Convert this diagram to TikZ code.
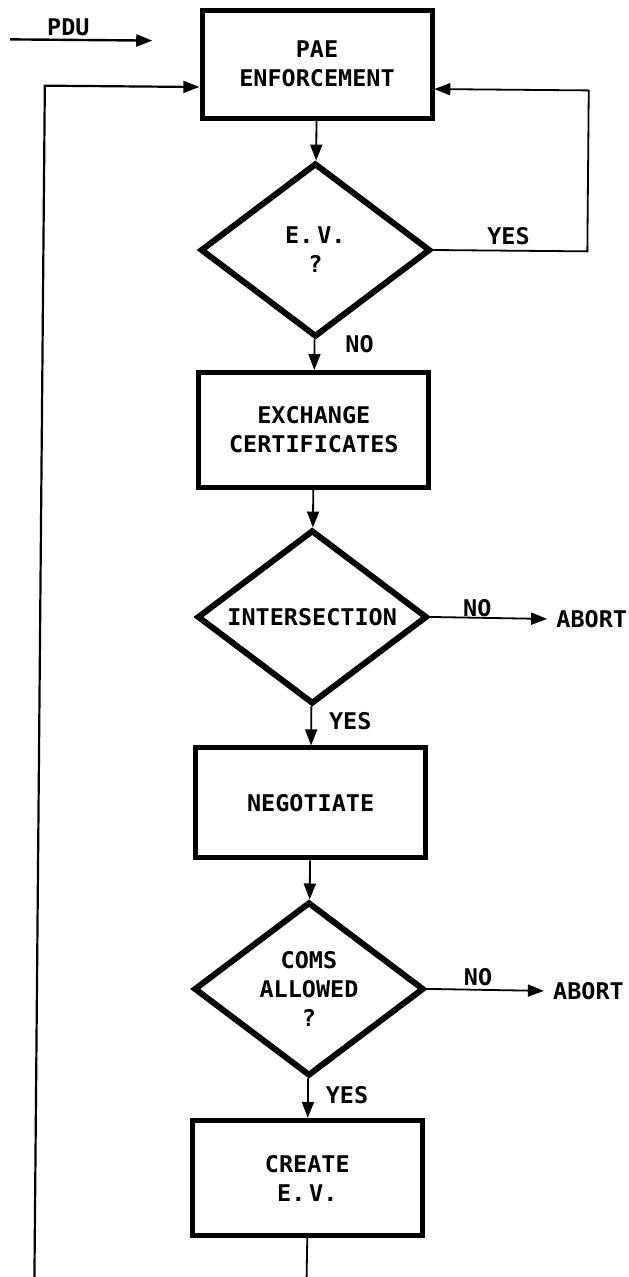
\documentclass[tikz,border=0pt]{standalone}
\usepackage{fontspec}
\newfontfamily\plotfont[FakeStretch=1.02]{DejaVu Sans Mono Bold}
\usetikzlibrary{shapes.geometric,arrows.meta}

\begin{document}
\begin{tikzpicture}[x=1pt,y=-1pt,
  txt/.style={font={\plotfont\fontsize{23}{29}\selectfont}, align=center},
  procbox/.style={txt, draw, line width=5pt, minimum width=230pt, inner sep=0pt},
  decision/.style={txt, draw, diamond, line width=6pt, minimum width=230pt,
                   minimum height=174pt, aspect=1.32, inner sep=0pt},
  flow/.style={line width=1.8pt, -{Triangle[length=16pt,width=12pt]}},
  wire/.style={line width=1.8pt},
  lbl/.style={txt, inner sep=0pt}]

\useasboundingbox (0,0) rectangle (629,1277);
\clip (0,0) rectangle (629,1277);

\begin{scope}[rotate around={-0.5:(312,640)}]
  % process boxes and decisions
  \node[procbox, minimum height=108pt] (pae)    at (312,64)   {PAE\\ENFORCEMENT};
  \node[decision]                      (ev)     at (312,250)  {E.\,V.\\?};
  \node[procbox, minimum height=115pt] (exch)   at (312,430)  {EXCHANGE\\CERTIFICATES};
  \node[decision]                      (isect)  at (312,617)  {INTERSECTION};
  \node[procbox, minimum height=110pt] (nego)   at (312,803)  {NEGOTIATE};
  \node[decision]                      (coms)   at (312,989)  {COMS\\ALLOWED\\?};
  \node[procbox, minimum height=115pt] (create) at (312,1178) {CREATE\\E.\,V.};

  % terminal labels
  \node[lbl, anchor=west] (abort1) at (556,617) {ABORT};
  \node[lbl, anchor=west] (abort2) at (556,989) {ABORT};

  % free ends of connectors
  \coordinate (pduL)   at (5,42);
  \coordinate (pduR)   at (147,42);
  \coordinate (fbR)    at (584,88);
  \coordinate (fbL)    at (40,88);
  \coordinate (fbLbot) at (40,1300);
  \coordinate (tail)   at (312,1300);

  % main flow
  \draw[flow, line width=2.4pt] (pduL) -- (pduR);
  \draw[flow] (pae) -- (ev);
  \draw[flow] (ev) -- (exch);
  \draw[flow] (exch) -- (isect);
  \draw[flow] (isect) -- (nego);
  \draw[flow] (nego) -- (coms);
  \draw[flow] (coms) -- (create);
  \draw[wire] (create.south) -- (tail);

  % exits to abort
  \draw[flow, shorten >=9pt] (isect.east) -- (abort1.west);
  \draw[flow, shorten >=9pt] (coms.east) -- (abort2.west);

  % feedback loops into enforcement
  \draw[flow] (ev.east) -| (fbR) -- (fbR -| pae.east);
  \draw[flow, line width=2.2pt] (fbLbot) -- (fbL) -- (fbL -| pae.west);

  % branch labels
  \node[lbl] (pdu)  at (63,29)   {PDU};
  \node[lbl] (yes1) at (505,234) {YES};
  \node[lbl] (no1)  at (357,344) {NO};
  \node[lbl] (no2)  at (477,607) {NO};
  \node[lbl] (yes2) at (351,721) {YES};
  \node[lbl] (no3)  at (481,976) {NO};
  \node[lbl] (yes3) at (351,1095) {YES};
\end{scope}
\end{tikzpicture}
\end{document}
